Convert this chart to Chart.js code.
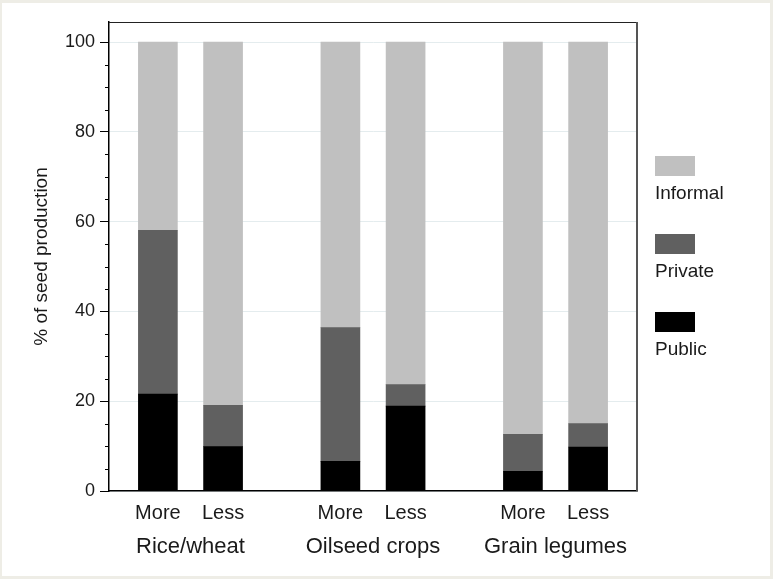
<!DOCTYPE html>
<html><head><meta charset="utf-8">
<script src="https://cdn.jsdelivr.net/npm/chart.js@4/dist/chart.umd.min.js"></script>
<style>
html,body{margin:0;padding:0;background:#fff;}
#wrap{position:relative;width:773px;height:579px;overflow:hidden;}
canvas{position:absolute;left:0;top:0;}
.sw{position:absolute;left:655px;width:40px;height:20px;}
.lt{position:absolute;left:655px;font-family:Arial,'Liberation Sans',sans-serif;font-size:19px;color:#1a1a1a;line-height:20px;white-space:nowrap;}
</style></head><body>
<div id="wrap"><canvas id="c" width="773" height="579"></canvas><div id="legend"></div></div>
<script>
// ---- data ----
const groups = ['Rice/wheat', 'Oilseed crops', 'Grain legumes'];
const subLabels = ['More', 'Less'];
const publicVals   = [21.6, 9.9, 6.6, 18.9, 4.4, 9.8];
const privateVals  = [36.5, 9.2, 29.8, 4.8, 8.2, 5.2];
const informalVals = [41.9, 80.9, 63.6, 76.3, 87.4, 85.0];
const yTickVals = [0, 20, 40, 60, 80, 100];
const yTitle = '% of seed production';

// ---- layout helpers ----
const F = "Arial, 'Liberation Sans', sans-serif";
const GROUP_STEP = 2.8;
const positions = [], tickNames = [];
groups.forEach((g, gi) => subLabels.forEach((s, si) => { positions.push(gi * GROUP_STEP + si); tickNames.push(s); }));
const groupCenters = groups.map((g, gi) => gi * GROUP_STEP + 0.5);
const mk = vals => vals.map((v, i) => ({ x: positions[i], y: v }));

const datasets = [
  { label: 'Public',   data: mk(publicVals),   backgroundColor: '#000000' },
  { label: 'Private',  data: mk(privateVals),  backgroundColor: '#606060' },
  { label: 'Informal', data: mk(informalVals), backgroundColor: '#c0c0c0' }
];

const bgPlugin = {
  id: 'bg',
  beforeDraw(chart) {
    const ctx = chart.ctx;
    ctx.save();
    ctx.fillStyle = '#eeede6';
    ctx.fillRect(0, 0, chart.width, chart.height);
    ctx.fillStyle = '#ffffff';
    ctx.fillRect(2, 3, chart.width - 5, chart.height - 6);
    ctx.restore();
  }
};
const framePlugin = {
  id: 'frame',
  afterDraw(chart) {
    const ctx = chart.ctx, a = chart.chartArea, y = chart.scales.y;
    ctx.save();
    ctx.strokeStyle = '#000';
    ctx.lineWidth = 1;
    for (let v = 5; v < 100; v += 5) {
      if (v % 20 === 0) continue;
      const py = Math.round(y.getPixelForValue(v)) + 0.5;
      ctx.beginPath(); ctx.moveTo(a.left - 4, py); ctx.lineTo(a.left, py); ctx.stroke();
    }
    ctx.strokeStyle = '#222';
    ctx.beginPath(); ctx.moveTo(a.left, a.top + 0.5); ctx.lineTo(a.right, a.top + 0.5); ctx.stroke();
    ctx.strokeStyle = '#555';
    ctx.lineWidth = 2;
    ctx.beginPath(); ctx.moveTo(a.right, a.top); ctx.lineTo(a.right, a.bottom); ctx.stroke();
    ctx.restore();
  }
};

new Chart(document.getElementById('c'), {
  type: 'bar',
  data: { datasets },
  plugins: [bgPlugin, framePlugin],
  options: {
    responsive: false,
    animation: false,
    layout: { padding: { left: 0, top: 22, right: 136, bottom: 0 } },
    plugins: { legend: { display: false }, tooltip: { enabled: false } },
    datasets: { bar: { barThickness: 39 } },
    scales: {
      x: {
        type: 'linear', min: -0.75, max: 7.35, offset: false, stacked: true, position: 'bottom',
        grid: { display: false, drawTicks: false, tickLength: 0, offset: false },
        border: { display: true, color: '#000', width: 1.5 },
        afterBuildTicks: s => { s.ticks = positions.map(v => ({ value: v })); },
        ticks: { autoSkip: false, maxRotation: 0, padding: 10, color: '#1a1a1a',
                 font: { size: 20, family: F }, callback: (v, i) => tickNames[i] },
        afterFit: s => { s.height = 35; }
      },
      x2: {
        type: 'linear', min: -0.75, max: 7.35, offset: false, position: 'bottom',
        grid: { display: false, drawTicks: false, tickLength: 0, offset: false },
        border: { display: false },
        afterBuildTicks: s => { s.ticks = groupCenters.map(v => ({ value: v })); },
        ticks: { autoSkip: false, maxRotation: 0, padding: 8, color: '#1a1a1a',
                 font: { size: 22, family: F }, callback: (v, i) => groups[i] },
        afterFit: s => { s.height = 53; }
      },
      y: {
        min: 0, max: 104.5, stacked: true,
        afterBuildTicks: s => { s.ticks = yTickVals.map(v => ({ value: v })); },
        grid: { color: '#e4ecee', tickColor: '#000', tickLength: 9, lineWidth: 1 },
        border: { display: true, color: '#000', width: 1.5 },
        ticks: { padding: 5, color: '#1a1a1a', font: { size: 18, family: F } },
        title: { display: true, text: yTitle, color: '#1a1a1a', font: { size: 19, family: F }, padding: { top: 30, bottom: 0 } },
        afterFit: s => { s.width = 109; }
      }
    }
  }
});

// legend (Informal on top)
const leg = document.getElementById('legend');
datasets.slice().reverse().forEach((d, k) => {
  const top = 156 + k * 78;
  const sw = document.createElement('div');
  sw.className = 'sw'; sw.style.top = top + 'px'; sw.style.background = d.backgroundColor;
  const t = document.createElement('div');
  t.className = 'lt'; t.style.top = (top + 27) + 'px'; t.textContent = d.label;
  leg.appendChild(sw); leg.appendChild(t);
});
</script>
</body></html>
